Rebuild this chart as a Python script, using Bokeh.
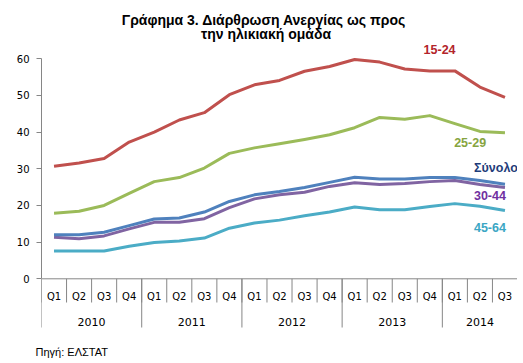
from bokeh.plotting import figure
from bokeh.models import Range1d, FixedTicker, LinearAxis, Label, Title
from bokeh.core.properties import value
from bokeh.embed import file_html
from bokeh.resources import INLINE

years = ["2010", "2011", "2012", "2013", "2014"]
quarters = ["Q1", "Q2", "Q3", "Q4"] * 4 + ["Q1", "Q2", "Q3"]
year_quarter_counts = [4, 4, 4, 4, 3]

age_15_24 = [30.7, 31.6, 32.8, 37.3, 40.0, 43.3, 45.3, 50.2, 52.9, 54.1, 56.6, 57.9, 59.8, 59.1, 57.2, 56.7, 56.7, 52.3, 49.5]
age_25_29 = [17.9, 18.4, 20.0, 23.3, 26.5, 27.6, 30.2, 34.2, 35.7, 36.8, 38.0, 39.3, 41.2, 44.0, 43.5, 44.5, 42.3, 40.2, 39.8]
total = [12.0, 12.0, 12.7, 14.5, 16.3, 16.6, 18.2, 21.1, 22.9, 23.8, 24.9, 26.3, 27.7, 27.2, 27.2, 27.6, 27.6, 26.8, 25.8]
age_30_44 = [11.3, 10.9, 11.7, 13.6, 15.4, 15.4, 16.4, 19.4, 21.8, 22.9, 23.6, 25.2, 26.2, 25.7, 26.0, 26.5, 26.8, 25.7, 24.9]
age_45_64 = [7.6, 7.6, 7.6, 8.9, 9.9, 10.3, 11.1, 13.8, 15.2, 16.0, 17.2, 18.2, 19.6, 18.8, 18.8, 19.7, 20.5, 19.8, 18.6]

y_ticks = [0, 10, 20, 30, 40, 50, 60]

n = len(quarters)
xs = list(range(n))

AXIS = "#868686"
TICK_FONT = "DejaVu Sans"
W, H = 517, 362
BORDER_BOTTOM = 20
PX_PER_UNIT = 3.667          # vertical scale (pixels per percentage point)
Y0_PX = 278.3                # pixel row of the value 0
Y_TOP = Y0_PX / PX_PER_UNIT
Y_BOTTOM = Y_TOP - (H - BORDER_BOTTOM) / PX_PER_UNIT

p = figure(width=W, height=H, output_backend="svg", toolbar_location=None,
           x_range=Range1d(-0.5, n - 0.5), y_range=Range1d(Y_BOTTOM, Y_TOP),
           x_axis_location=None, y_axis_location=None,
           min_border_left=41, min_border_right=0, min_border_top=0,
           min_border_bottom=BORDER_BOTTOM)
p.grid.visible = False
p.outline_line_color = None
p.background_fill_color = "white"
p.border_fill_color = "white"

# y axis (line only between 0 and 60)
yax = LinearAxis(ticker=FixedTicker(ticks=y_ticks), bounds=(0, 60))
yax.axis_line_color = AXIS
yax.major_tick_line_color = AXIS
yax.major_tick_in = 0
yax.major_tick_out = 5
yax.minor_tick_line_color = None
yax.major_label_text_font = TICK_FONT
yax.major_label_text_font_size = "10px"
yax.major_label_text_color = "#000000"
yax.major_label_standoff = 7
p.add_layout(yax, "left")

# category axis drawn as a table under the plot
q_sep_len = 23.7 / PX_PER_UNIT
y_sep_len = 48.7 / PX_PER_UNIT
q_label_y = -17.2 / PX_PER_UNIT
yr_label_y = -42.7 / PX_PER_UNIT

p.segment(x0=[-0.5], y0=[0], x1=[n - 0.5], y1=[0], line_color=AXIS, line_width=1)
bounds = [i - 0.5 for i in range(n + 1)]
p.segment(x0=bounds, y0=[0] * len(bounds), x1=bounds, y1=[-q_sep_len] * len(bounds),
          line_color=AXIS, line_width=1)

year_centers = []
year_bounds = [-0.5]
start = 0
for c in year_quarter_counts:
    year_centers.append(start + (c - 1) / 2)
    start += c
    year_bounds.append(start - 0.5)
p.segment(x0=year_bounds, y0=[0] * len(year_bounds), x1=year_bounds,
          y1=[-y_sep_len] * len(year_bounds), line_color=AXIS, line_width=1)

p.text(x=xs, y=[q_label_y] * n, text=quarters, text_font=value(TICK_FONT),
       text_font_size=value("10px"), text_color="#000000", text_align="center",
       text_baseline="middle")
p.text(x=year_centers, y=[yr_label_y] * len(years), text=years, text_font=value(TICK_FONT),
       text_font_size=value("11px"), text_color="#000000", text_align="center",
       text_baseline="middle")

series = [
    (age_15_24, "#C0504D"),
    (age_25_29, "#9BBB59"),
    (age_45_64, "#4BACC6"),
    (age_30_44, "#8064A2"),
    (total, "#4F81BD"),
]
for vals, col in series:
    p.line(xs, vals, line_color=col, line_width=3, line_join="round")

labels = [
    ("15-24", 15.39, 62.4, "#B3242B"),
    ("25-29", 16.61, 37.2, "#86A440"),
    ("Σύνολο", 17.64, 30.1, "#1F3D7A"),
    ("30-44", 17.40, 22.7, "#7030A0"),
    ("45-64", 17.40, 14.1, "#3BA6C4"),
]
for t, x, y, c in labels:
    p.add_layout(Label(x=x, y=y, text=t, text_color=c, text_font="Liberation Sans",
                       text_font_style="bold", text_font_size="12.5px",
                       text_align="center", text_baseline="middle"))

title_lines = ["Γράφημα 3. Διάρθρωση Ανεργίας  ως προς", "την ηλικιακή ομάδα"]
for t, y in zip(title_lines, [70.44, 66.81]):
    p.add_layout(Label(x=8.46, y=y, text=t, text_color="#000000", text_font="Liberation Sans",
                       text_font_style="bold", text_font_size="14px",
                       text_align="center", text_baseline="alphabetic"))

src = Title(text="Πηγή: ΕΛΣΤΑΤ", align="left", offset=-6, standoff=2,
            text_font="Liberation Sans", text_font_size="11px", text_font_style="normal",
            text_color="#000000")
p.add_layout(src, "below")

open("out.html", "w").write(file_html(p, INLINE))
